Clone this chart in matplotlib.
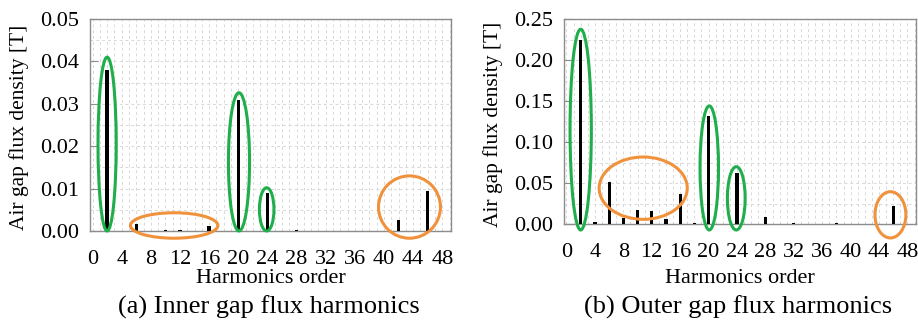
import matplotlib.pyplot as plt
from matplotlib.patches import Ellipse
from matplotlib.ticker import MultipleLocator

plt.rcParams['font.family'] = ['Liberation Serif', 'DejaVu Serif']

# (a) inner gap
inner_order = [2, 6, 10, 12, 16, 20, 24, 28, 42, 46]
inner_b = [0.038, 0.0016, 0.0002, 0.0002, 0.0012, 0.031, 0.009, 0.0002, 0.0026, 0.0094]
# (b) outer gap
outer_order = [2, 4, 6, 8, 10, 12, 14, 16, 18, 20, 24, 28, 32, 38, 46]
outer_b = [0.225, 0.003, 0.051, 0.007, 0.017, 0.016, 0.006, 0.0365, 0.0012,
           0.1316, 0.0617, 0.008, 0.001, 0.001, 0.022]

# highlight rings: (x centre, width, y bottom, y top, colour)
GREEN = '#1fae4b'
ORANGE = '#f0913c'
inner_rings = [(2, 2.5, 0.0, 0.041, GREEN),
               (20.1, 2.9, 0.0, 0.0326, GREEN),
               (23.9, 2.0, 0.0, 0.0102, GREEN),
               (11.2, 12.0, -0.0017, 0.0043, ORANGE),
               (43.5, 8.5, -0.0017, 0.013, ORANGE)]
outer_rings = [(2, 3.0, -0.0073, 0.2375, GREEN),
               (20.1, 2.6, -0.0073, 0.144, GREEN),
               (23.9, 2.5, -0.0073, 0.0699, GREEN),
               (10.8, 12.4, 0.0057, 0.0817, ORANGE),
               (45.6, 4.35, -0.017, 0.0394, ORANGE)]

W, H = 918, 320
fig = plt.figure(figsize=(W / 100, H / 100), dpi=100)


def panel(rect, order, vals, ymax, ystep, rings, caption):
    l, t, r, b = rect
    ax = fig.add_axes([l / W, 1 - b / H, (r - l) / W, (b - t) / H])
    ax.bar(order, vals, width=0.45, color='black', zorder=3)
    ax.set_xlim(-0.35, 49.2)
    ax.xaxis.set_major_locator(MultipleLocator(4))
    ax.xaxis.set_minor_locator(MultipleLocator(1))
    ax.yaxis.set_major_locator(MultipleLocator(ystep))
    ax.yaxis.set_minor_locator(MultipleLocator(ystep / 2))
    ax.grid(True, which='both', color='#d8d8d8', ls=(0, (3, 3)), lw=0.7, zorder=0)
    for s in ax.spines.values():
        s.set_color('#8c8c8c')
        s.set_linewidth(1.0)
    ax.tick_params(axis='y', which='major', direction='in', length=6,
                   color='#8c8c8c', labelsize=16, pad=8)
    ax.tick_params(axis='x', which='major', length=0, labelsize=16, pad=14)
    ax.tick_params(which='minor', length=0)
    ax.set_ylim(0, ymax)
    ax.yaxis.set_major_formatter('{x:.2f}')
    ax.set_xlabel('Harmonics order', fontsize=16)
    ax.xaxis.set_label_coords(0.5, (b - 269) / (b - t))
    ax.set_ylabel('Air gap flux density [T]', fontsize=15.5)
    ax.yaxis.set_label_coords((l - 61 - l) / (r - l), 0.488)
    for xc, w, y0, y1, c in rings:
        e = Ellipse((xc, (y0 + y1) / 2), w, y1 - y0, fill=False, ec=c, lw=2.2,
                    zorder=4, clip_on=False)
        ax.add_patch(e)
    fig.text(((l + r) / 2 - 2) / W, 1 - 307 / H, caption, fontsize=19,
             ha='center', va='center')
    return ax


panel((90, 19, 451, 231), inner_order, inner_b, 0.05, 0.01, inner_rings,
      '(a) Inner gap flux harmonics')
panel((564, 19, 916, 224), outer_order, outer_b, 0.25, 0.05, outer_rings,
      '(b) Outer gap flux harmonics')

fig.savefig('out.png', dpi=100)
